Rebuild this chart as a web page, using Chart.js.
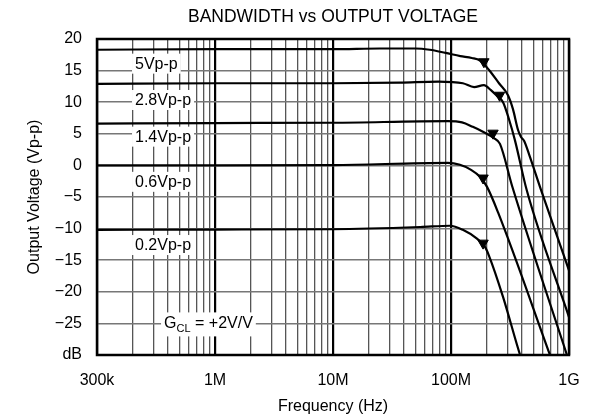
<!DOCTYPE html>
<html lang="en">
<head>
    <meta charset="UTF-8">
    <title>Bandwidth vs Output Voltage</title>
    <script src="https://cdn.jsdelivr.net/npm/chart.js"></script>
    <style>
        body {
            margin: 0;
            background: #fff;
        }
        .wrap {
            width: 597px;
            height: 420px;
        }
    </style>
</head>
<body>
    <div class="wrap">
        <canvas id="bwChart"></canvas>
    </div>

    <script>
        // curves (frequency in Hz, level in dB)
        const freq5 = [1e5, 1e6, 1e7, 2.5e7, 5e7, 6.6e7, 9e7, 1.2e8, 1.5e8, 1.76e8, 2.1e8, 2.55e8, 3.04e8, 3.35e8, 3.7e8, 3.92e8, 4.16e8, 4.58e8, 5.8e8, 1e9];
        const gain5 = [18.3, 18.4, 18.4, 18.5, 18.5, 18.3, 17.8, 17.3, 17.0, 16.6, 15.1, 13.0, 11.1, 8.9, 5.6, 4.5, 3.9, 1.8, -3.9, -16.6];

        const freq28 = [1e5, 1e6, 1e7, 3.7e7, 7.8e7, 1.26e8, 1.57e8, 1.9e8, 2.18e8, 2.45e8, 2.76e8, 3.1e8, 3.48e8, 4.38e8, 1e9];
        const gain28 = [12.9, 13.0, 13.0, 13.1, 13.25, 13.0, 12.4, 12.7, 11.9, 11.0, 10.0, 7.3, 4.0, -3.9, -24.0];

        const freq14 = [1e5, 1e6, 1e7, 9.4e7, 1.24e8, 1.53e8, 1.83e8, 2.31e8, 2.6e8, 3.3e8, 1e9];
        const gain14 = [6.6, 6.7, 6.75, 7.0, 6.8, 6.1, 5.4, 4.3, 3.4, -3.3, -31];

        const freq06 = [1e5, 1e6, 1e7, 9.4e7, 1.19e8, 1.48e8, 1.76e8, 2.02e8, 2.5e8, 6.9e8, 8.4e8];
        const gain06 = [0, 0, 0.05, 0.4, 0.1, -0.7, -1.8, -3.4, -7.4, -30, -34.4];

        const freq02 = [1e5, 1e6, 1e7, 5.5e7, 9.8e7, 1.26e8, 1.66e8, 1.94e8, 2.1e8, 2.76e8, 3.85e8, 4.32e8];
        const gain02 = [-10.2, -10.15, -10.1, -9.75, -9.55, -10.2, -11.6, -12.9, -14.3, -20.8, -30, -32.7];

        // -3dB markers (triangles)
        const markerFreq = [1.9e8, 2.58e8, 2.27e8, 1.87e8, 1.87e8];
        const markerGain = [16.4, 11.1, 5.1, -2.0, -12.3];

        // axis ticks
        const decadeTicks = [1e5, 1e6, 1e7, 1e8, 1e9];
        const decadeLabels = ['300k', '1M', '10M', '100M', '1G'];
        const yTicks = [20, 15, 10, 5, 0, -5, -10, -15, -20, -25, -30];

        // text labels inside the plot
        const noteText = ['5Vp-p', '2.8Vp-p', '1.4Vp-p', '0.6Vp-p', '0.2Vp-p'];
        const noteFreq = [2.1e5, 2.1e5, 2.1e5, 2.1e5, 2.1e5];
        const noteGain = [16.1, 10.35, 4.55, -2.6, -12.6];

        const FONT = "'Liberation Sans', Arial, Helvetica, sans-serif";
        const TITLE = 'BANDWIDTH vs OUTPUT VOLTAGE';

        function pts(xs, ys) {
            return xs.map((x, i) => ({ x: x, y: ys[i] }));
        }

        function curve(xs, ys) {
            return {
                data: pts(xs, ys),
                borderColor: '#000',
                borderWidth: 2.2,
                pointRadius: 0,
                cubicInterpolationMode: 'monotone',
                fill: false
            };
        }

        function isDecade(v) {
            const l = Math.log10(v);
            return Math.abs(l - Math.round(l)) < 1e-6;
        }

        // labels with white box, drawn over the grid but under the curves
        const notesPlugin = {
            id: 'notes',
            beforeDatasetsDraw(chart) {
                const ctx = chart.ctx;
                const xs = chart.scales.x, ys = chart.scales.y;
                ctx.save();
                ctx.font = '16px ' + FONT;
                ctx.textBaseline = 'middle';
                ctx.textAlign = 'left';
                noteText.forEach((t, i) => {
                    const px = xs.getPixelForValue(noteFreq[i]);
                    const py = ys.getPixelForValue(noteGain[i]);
                    const w = ctx.measureText(t).width;
                    ctx.fillStyle = '#fff';
                    ctx.fillRect(px - 3, py - 10, w + 6, 20);
                    ctx.fillStyle = '#000';
                    ctx.fillText(t, px, py + 1);
                });

                // G_CL = +2V/V
                const gx = xs.getPixelForValue(3.7e5);
                const gy = ys.getPixelForValue(-25);
                ctx.font = '16px ' + FONT;
                const wG = ctx.measureText('G').width;
                const rest = ' = +2V/V';
                const wR = ctx.measureText(rest).width;
                ctx.font = '11px ' + FONT;
                const wS = ctx.measureText('CL').width;
                ctx.fillStyle = '#fff';
                ctx.fillRect(gx - 3, gy - 11, wG + wS + wR + 6, 24);
                ctx.fillStyle = '#000';
                ctx.font = '16px ' + FONT;
                ctx.fillText('G', gx, gy);
                ctx.font = '11px ' + FONT;
                ctx.fillText('CL', gx + wG, gy + 6);
                ctx.font = '16px ' + FONT;
                ctx.fillText(rest, gx + wG + wS, gy);
                ctx.restore();
            },
            afterDatasetsDraw(chart) {
                const a = chart.chartArea;
                const ctx = chart.ctx;
                ctx.save();
                ctx.strokeStyle = '#000';
                ctx.lineWidth = 2.5;
                ctx.strokeRect(a.left, a.top, a.right - a.left, a.bottom - a.top);
                // title centred over the plot area
                ctx.fillStyle = '#000';
                ctx.font = '17.5px ' + FONT;
                ctx.textAlign = 'center';
                ctx.textBaseline = 'middle';
                ctx.fillText(TITLE, (a.left + a.right) / 2, 17);
                ctx.restore();
            }
        };

        const ctx = document.getElementById('bwChart').getContext('2d');
        new Chart(ctx, {
            type: 'line',
            data: {
                datasets: [
                    curve(freq5, gain5),
                    curve(freq28, gain28),
                    curve(freq14, gain14),
                    curve(freq06, gain06),
                    curve(freq02, gain02),
                    {
                        data: pts(markerFreq, markerGain),
                        showLine: false,
                        pointStyle: 'triangle',
                        rotation: 180,
                        pointRadius: 6,
                        backgroundColor: '#000',
                        borderColor: '#000',
                        borderWidth: 1
                    }
                ]
            },
            options: {
                responsive: true,
                maintainAspectRatio: false,
                animation: false,
                layout: { padding: { left: 0, right: 28, top: 39, bottom: 0 } },
                plugins: {
                    legend: { display: false },
                    tooltip: { enabled: false },
                    title: { display: false }
                },
                scales: {
                    x: {
                        type: 'logarithmic',
                        min: 1e5,
                        max: 1e9,
                        afterBuildTicks(scale) {
                            const t = [];
                            for (let d = 5; d < 9; d++) {
                                for (let m = 1; m <= 9; m++) {
                                    t.push({ value: m * Math.pow(10, d), major: m === 1 });
                                }
                            }
                            t.push({ value: 1e9, major: true });
                            scale.ticks = t;
                        },
                        afterFit(scale) { scale.height = 65; },
                        border: { display: false },
                        grid: {
                            drawTicks: false,
                            color: c => (c.tick && isDecade(c.tick.value)) ? '#000' : '#555',
                            lineWidth: c => (c.tick && isDecade(c.tick.value)) ? 2.2 : 1.3
                        },
                        ticks: {
                            autoSkip: false,
                            maxRotation: 0,
                            padding: 16,
                            color: '#000',
                            font: { family: FONT, size: 16 },
                            callback(v) {
                                const i = decadeTicks.findIndex(d => Math.abs(d - v) / d < 1e-6);
                                return i >= 0 ? decadeLabels[i] : '';
                            }
                        },
                        title: {
                            display: true,
                            text: 'Frequency (Hz)',
                            color: '#000',
                            font: { family: FONT, size: 16 },
                            padding: { top: 0, bottom: 4 }
                        }
                    },
                    y: {
                        min: -30,
                        max: 20,
                        afterBuildTicks(scale) {
                            scale.ticks = yTicks.map(v => ({ value: v }));
                        },
                        afterFit(scale) { scale.width = 97; },
                        border: { display: false },
                        grid: {
                            drawTicks: false,
                            color: '#777',
                            lineWidth: 1.5
                        },
                        ticks: {
                            padding: 15,
                            color: '#000',
                            font: { family: FONT, size: 16 },
                            callback(v) {
                                if (v === -30) return 'dB';
                                return v < 0 ? '\u2212' + Math.abs(v) : String(v);
                            }
                        },
                        title: {
                            display: true,
                            text: 'Output Voltage (Vp-p)',
                            color: '#000',
                            font: { family: FONT, size: 16 },
                            padding: { top: 25, bottom: 0 }
                        }
                    }
                }
            },
            plugins: [notesPlugin]
        });
    </script>
</body>
</html>
